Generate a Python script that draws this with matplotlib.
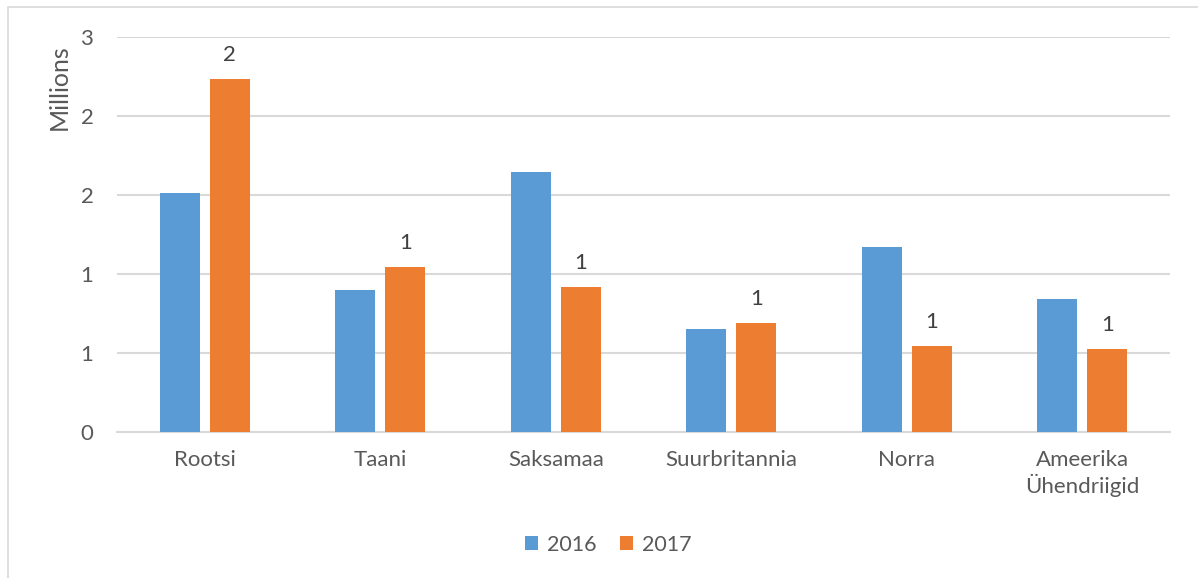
import numpy as np
import matplotlib.pyplot as plt
from matplotlib.patches import Rectangle
from matplotlib.ticker import FuncFormatter, MultipleLocator

plt.rcParams['font.family'] = ['Lato', 'DejaVu Sans']

countries = ['Rootsi', 'Taani', 'Saksamaa', 'Suurbritannia', 'Norra', 'Ameerika\nÜhendriigid']
v2016 = [1.513, 0.899, 1.646, 0.652, 1.171, 0.842]   # miljonites
v2017 = [2.234, 1.044, 0.918, 0.690, 0.544, 0.525]
years = ['2016', '2017']

blue = '#5B9BD5'
orange = '#ED7D31'
grey = '#595959'
grid = '#D9D9D9'
fs = 16

fig = plt.figure(figsize=(11.98, 5.78), dpi=100)
fig.patches.append(Rectangle((8/1198, -0.1), 1.2, 1 - 7/578 + 0.1, transform=fig.transFigure,
                             fill=False, edgecolor=grid, linewidth=1.2))

ax = fig.add_axes([117/1198, 1 - 432/578, (1170 - 117)/1198, (432 - 37)/578])

x = np.arange(len(countries))
w = 0.228
off = 0.142
ax.bar(x - off, v2016, w, color=blue, label=years[0], zorder=3)
b2 = ax.bar(x + off, v2017, w, color=orange, label=years[1], zorder=3)

def excel_round(v, pos=None):
    return '%d' % np.floor(v + 0.5 + 1e-9)

for rect, v in zip(b2, v2017):
    ax.annotate(excel_round(v), (rect.get_x() + rect.get_width()/2, v),
                xytext=(0, 10), textcoords='offset points', ha='center', va='bottom',
                fontsize=fs, color='#404040')

ax.set_xlim(-0.5, len(countries) - 0.5)
ax.set_ylim(0, 2.5)
ax.yaxis.set_major_locator(MultipleLocator(0.5))
ax.yaxis.set_major_formatter(FuncFormatter(excel_round))
ax.set_xticks(x)
ax.set_xticklabels(countries)
ax.tick_params(axis='both', length=0, labelsize=fs, colors=grey)
ax.tick_params(axis='y', pad=17)
ax.tick_params(axis='x', pad=13)
ax.grid(axis='y', color=grid, linewidth=1.5, zorder=0)
for s in ['top', 'right', 'left']:
    ax.spines[s].set_visible(False)
ax.spines['bottom'].set_color(grid)
ax.spines['bottom'].set_linewidth(1.5)

fig.text(59/1198, 1 - 87/578, 'Millions', rotation=90, ha='center', va='center',
         fontsize=18, color=grey)

fig.legend(loc='center', bbox_to_anchor=(608/1198, 1 - 545/578), ncol=2, frameon=False,
           fontsize=15.5, labelcolor=grey, handlelength=0.62, handleheight=0.62,
           columnspacing=1.1, handletextpad=0.4)

fig.savefig('out.png', dpi=100)
